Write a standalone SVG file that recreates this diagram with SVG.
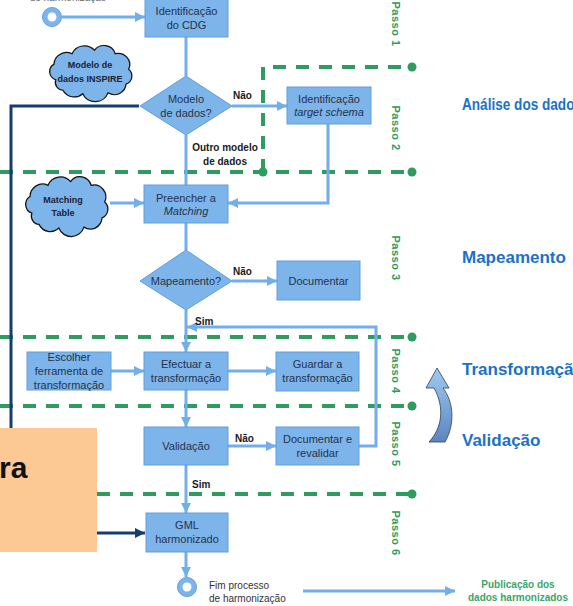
<svg xmlns="http://www.w3.org/2000/svg" width="573" height="606" viewBox="0 0 573 606">
<defs>
<style>
.box{fill:#7db4ea;stroke:#5e9fe0;stroke-width:1}
.bt{font-family:"Liberation Sans",Arial,sans-serif;font-size:11px;fill:#25324a;text-anchor:middle}
.lbl{font-family:"Liberation Sans",Arial,sans-serif;font-size:10px;font-weight:bold;fill:#1a1a1a}
.cloud{fill:#7db4ea;stroke:#111;stroke-width:1.4}
.ct{font-family:"Liberation Sans",Arial,sans-serif;font-size:9px;font-weight:bold;fill:#1b2233;text-anchor:middle}
.conn{fill:none;stroke:#72aeea;stroke-width:3}
.dark{fill:none;stroke:#153d6e;stroke-width:3}
.dash{fill:none;stroke:#2e9b5f;stroke-width:4;stroke-dasharray:13 10}
.dot{fill:#2e9b5f}
.passo{font-family:"Liberation Sans",Arial,sans-serif;font-size:11px;font-weight:bold;fill:#2e9b5f;text-anchor:middle;letter-spacing:0.5px}
.side{font-family:"Liberation Sans",Arial,sans-serif;font-size:17px;font-weight:bold;fill:#1a72c8}
</style>
<marker id="ah" markerUnits="userSpaceOnUse" markerWidth="10" markerHeight="10" refX="10" refY="5" orient="auto" viewBox="0 0 10 10">
<path d="M0,0 L10,5 L0,10 z" fill="#72aeea"/>
</marker>
<marker id="ahd" markerUnits="userSpaceOnUse" markerWidth="10" markerHeight="10" refX="10" refY="5" orient="auto" viewBox="0 0 10 10">
<path d="M0,0 L10,5 L0,10 z" fill="#153d6e"/>
</marker>
<linearGradient id="cg" x1="0" y1="0" x2="0" y2="1">
<stop offset="0" stop-color="#9fcaf2"/>
<stop offset="1" stop-color="#5a86bf"/>
</linearGradient>
<path id="cloudshape" d="M12,40 A10,10 0 0 1 10,22 A14,14 0 0 1 30,10 A15,15 0 0 1 55,6 A13,13 0 0 1 78,10 A13,13 0 0 1 93,28 A10,10 0 0 1 90,45 A13,13 0 0 1 70,55 A15,15 0 0 1 42,56 A14,14 0 0 1 20,52 A9,9 0 0 1 12,40 Z"/>
</defs>
<rect width="573" height="606" fill="#ffffff"/>

<g id="step-lines">
<path class="dash" d="M263 172 V67 H412"/>
<path class="dash" d="M0 172 H412"/>
<path class="dash" d="M0 337 H412"/>
<path class="dash" d="M0 406 H412"/>
<path class="dash" d="M97 494 H412"/>
<circle class="dot" cx="412" cy="67" r="4.5"/>
<circle class="dot" cx="263" cy="172" r="4.5"/>
<circle class="dot" cx="412" cy="172" r="4.5"/>
<circle class="dot" cx="412" cy="337" r="4.5"/>
<circle class="dot" cx="412" cy="406" r="4.5"/>
<circle class="dot" cx="412" cy="494" r="4.5"/>
<text class="passo" transform="translate(396,24) rotate(90)" y="4">Passo 1</text>
<text class="passo" transform="translate(396,128) rotate(90)" y="4">Passo 2</text>
<text class="passo" transform="translate(396,258) rotate(90)" y="4">Passo 3</text>
<text class="passo" transform="translate(396,371) rotate(90)" y="4">Passo 4</text>
<text class="passo" transform="translate(396,444) rotate(90)" y="4">Passo 5</text>
<text class="passo" transform="translate(396,533) rotate(90)" y="4">Passo 6</text>
</g>

<g id="connectors">
<path class="conn" d="M62 17 H145" marker-end="url(#ah)"/>
<path class="conn" d="M186 37 V76"/>
<path class="conn" d="M232 106 H287" marker-end="url(#ah)"/>
<path class="conn" d="M186 135 V185"/>
<path class="conn" d="M328 124 V203 H228" marker-end="url(#ah)"/>
<path class="conn" d="M110 203 H144" marker-end="url(#ah)"/>
<path class="conn" d="M186 223 V250"/>
<path class="conn" d="M232 281 H277" marker-end="url(#ah)"/>
<path class="conn" d="M186 310 V352" marker-end="url(#ah)"/>
<path class="conn" d="M359 446 H376 V327 H187" marker-end="url(#ah)"/>
<path class="conn" d="M111 371 H144" marker-end="url(#ah)"/>
<path class="conn" d="M228 371 H276" marker-end="url(#ah)"/>
<path class="conn" d="M186 390 V427" marker-end="url(#ah)"/>
<path class="conn" d="M228 446 H276" marker-end="url(#ah)"/>
<path class="conn" d="M186 465 V513" marker-end="url(#ah)"/>
<path class="conn" d="M186 552 V577" marker-end="url(#ah)"/>
<path class="conn" d="M303 591 H455" marker-end="url(#ah)"/>
<path class="dark" d="M139 106 H11 V533 H145" marker-end="url(#ahd)"/>
<text class="lbl" x="233" y="99">Não</text>
<text class="lbl" x="225" y="151" text-anchor="middle">Outro modelo</text>
<text class="lbl" x="225" y="165" text-anchor="middle">de dados</text>
<text class="lbl" x="233" y="275">Não</text>
<text class="lbl" x="195" y="325">Sim</text>
<text class="lbl" x="235" y="442">Não</text>
<text class="lbl" x="192" y="488">Sim</text>
</g>

<g id="start">
<text x="68" y="1" text-anchor="middle" font-family="Liberation Sans, Arial, sans-serif" font-size="10" fill="#666">de harmonização</text>
<circle cx="52" cy="17" r="9.5" fill="#7db4ea" stroke="#5e9fe0" stroke-width="1"/>
<circle cx="52" cy="17" r="4.5" fill="#ffffff"/>
</g>

<g id="n-cdg">
<rect class="box" x="145" y="-2" width="83" height="39"/>
<text class="bt" x="186.5" y="15">Identificação</text>
<text class="bt" x="186.5" y="29">do CDG</text>
</g>

<g id="n-inspire">
<use href="#cloudshape" class="cloud" transform="translate(45,45) scale(0.9,0.87)"/>
<text class="ct" x="90" y="68">Modelo de</text>
<text class="ct" x="90" y="82">dados INSPIRE</text>
</g>

<g id="n-modelo">
<path class="box" d="M186 76 L232 106 L186 135 L140 106 Z"/>
<text class="bt" x="186" y="103">Modelo</text>
<text class="bt" x="186" y="117">de dados?</text>
</g>

<g id="n-target">
<rect class="box" x="287" y="87" width="84" height="37"/>
<text class="bt" x="329" y="103">Identificação</text>
<text class="bt" x="329" y="116" font-style="italic">target schema</text>
</g>

<g id="n-matchtable">
<use href="#cloudshape" class="cloud" transform="translate(21,176) scale(0.9,0.93)"/>
<text class="ct" x="63" y="203">Matching</text>
<text class="ct" x="63" y="216">Table</text>
</g>

<g id="n-preencher">
<rect class="box" x="144" y="185" width="84" height="38"/>
<text class="bt" x="186" y="202">Preencher a</text>
<text class="bt" x="186" y="215" font-style="italic">Matching</text>
</g>

<g id="n-mapeamento">
<path class="box" d="M186 250 L232 281 L186 310 L140 281 Z"/>
<text class="bt" x="186" y="285">Mapeamento?</text>
</g>

<g id="n-documentar">
<rect class="box" x="277" y="261" width="83" height="39"/>
<text class="bt" x="318.5" y="285">Documentar</text>
</g>

<g id="n-escolher">
<rect class="box" x="27" y="352" width="84" height="38"/>
<text class="bt" x="69" y="361">Escolher</text>
<text class="bt" x="69" y="375">ferramenta de</text>
<text class="bt" x="69" y="389">transformação</text>
</g>

<g id="n-efectuar">
<rect class="box" x="144" y="352" width="84" height="38"/>
<text class="bt" x="186" y="368">Efectuar a</text>
<text class="bt" x="186" y="382">transformação</text>
</g>

<g id="n-guardar">
<rect class="box" x="276" y="352" width="83" height="39"/>
<text class="bt" x="317.5" y="368">Guardar a</text>
<text class="bt" x="317.5" y="382">transformação</text>
</g>

<g id="n-validacao">
<rect class="box" x="144" y="427" width="84" height="38"/>
<text class="bt" x="186" y="450">Validação</text>
</g>

<g id="n-revalidar">
<rect class="box" x="276" y="427" width="83" height="38"/>
<text class="bt" x="317.5" y="443">Documentar e</text>
<text class="bt" x="317.5" y="457">revalidar</text>
</g>

<g id="n-gml">
<rect class="box" x="146" y="513" width="82" height="39"/>
<text class="bt" x="187" y="529">GML</text>
<text class="bt" x="187" y="543">harmonizado</text>
</g>

<g id="n-fim">
<circle cx="187" cy="587" r="9.5" fill="#7db4ea" stroke="#5e9fe0" stroke-width="1"/>
<circle cx="187" cy="587" r="4.5" fill="#ffffff"/>
<text x="209" y="589" font-family="Liberation Sans, Arial, sans-serif" font-size="10" fill="#333">Fim processo</text>
<text x="209" y="602" font-family="Liberation Sans, Arial, sans-serif" font-size="10" fill="#333">de harmonização</text>
</g>

<g id="n-publicacao">
<text x="518" y="588" text-anchor="middle" font-family="Liberation Sans, Arial, sans-serif" font-size="10" font-weight="bold" fill="#3aa56a">Publicação dos</text>
<text x="518" y="601" text-anchor="middle" font-family="Liberation Sans, Arial, sans-serif" font-size="10" font-weight="bold" fill="#3aa56a">dados harmonizados</text>
</g>

<g id="orange">
<rect x="0" y="428" width="97" height="124" fill="#fcc995"/>
<text x="-1" y="478" font-family="Liberation Sans, Arial, sans-serif" font-size="30" font-weight="bold" fill="#111">ra</text>
</g>

<g id="curved-arrow">
<path d="M437 368 L449 388 L443 388 C454 402 455 425 445 442 L429 442 C442 428 445 408 434 388 L426 388 Z" fill="url(#cg)" stroke="#2f3f55" stroke-width="0.8"/>
</g>

<g id="side-labels">
<text class="side" x="462" y="110" textLength="120" lengthAdjust="spacingAndGlyphs">Análise dos dados</text>
<text class="side" x="462" y="263">Mapeamento</text>
<text class="side" x="462" y="375">Transformação</text>
<text class="side" x="462" y="446">Validação</text>
</g>
</svg>
